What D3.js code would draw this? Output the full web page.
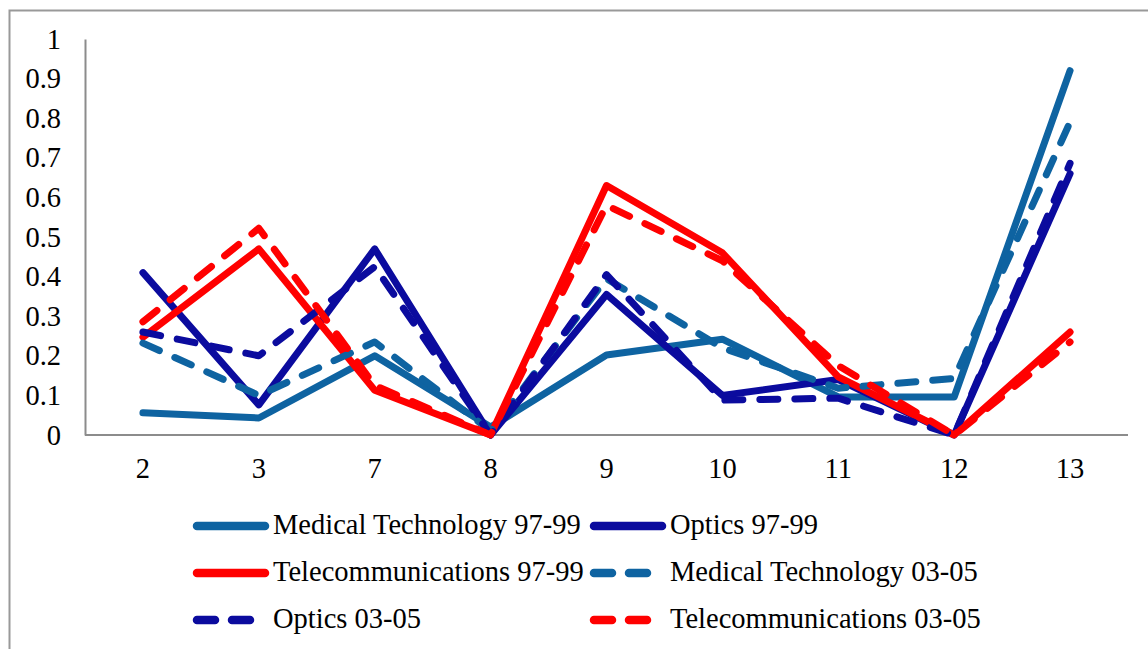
<!DOCTYPE html>
<html>
<head>
<meta charset="utf-8">
<script src="https://cdn.jsdelivr.net/npm/d3@7"></script>
<style>
  html, body { margin: 0; padding: 0; background: #fff; }
  svg { display: block; }
  text { font-family: "Liberation Serif", "Times New Roman", serif; fill: #000; }
</style>
</head>
<body>
<svg id="chart" width="1148" height="649"></svg>
<script>
const categories = ["2", "3", "7", "8", "9", "10", "11", "12", "13"];
const yTicks = [0, 0.1, 0.2, 0.3, 0.4, 0.5, 0.6, 0.7, 0.8, 0.9, 1];
const yTickLabels = ["0", "0.1", "0.2", "0.3", "0.4", "0.5", "0.6", "0.7", "0.8", "0.9", "1"];

const medTech9799 = [0.056, 0.043, 0.200, 0.020, 0.202, 0.242, 0.096, 0.096, 0.920];
const optics9799  = [0.410, 0.076, 0.470, 0.000, 0.355, 0.100, 0.140, 0.000, 0.660];
const telecom9799 = [0.247, 0.470, 0.113, 0.000, 0.630, 0.460, 0.147, 0.000, 0.260];
const medTech0305 = [0.232, 0.100, 0.235, 0.010, 0.395, 0.220, 0.118, 0.143, 0.790];
const optics0305  = [0.260, 0.200, 0.425, 0.000, 0.405, 0.088, 0.093, 0.000, 0.686];
const telecom0305 = [0.286, 0.522, 0.125, 0.000, 0.580, 0.440, 0.175, 0.000, 0.235];

const seriesNames = [
  "Medical Technology 97-99", "Optics 97-99", "Telecommunications 97-99",
  "Medical Technology 03-05", "Optics 03-05", "Telecommunications 03-05"
];

const TEAL = "#0E63A1", NAVY = "#0B0B9E", RED = "#FF0000";
const series = [
  { name: seriesNames[0], values: medTech9799, color: TEAL, dashed: false },
  { name: seriesNames[1], values: optics9799,  color: NAVY, dashed: false },
  { name: seriesNames[2], values: telecom9799, color: RED,  dashed: false },
  { name: seriesNames[3], values: medTech0305, color: TEAL, dashed: true },
  { name: seriesNames[4], values: optics0305,  color: NAVY, dashed: true },
  { name: seriesNames[5], values: telecom0305, color: RED,  dashed: true }
];

const svg = d3.select("#chart");
const W = 1148, H = 649;
const plot = { left: 85, right: 1128, top: 39, bottom: 435 };
const LW = 7;
const DASH = "18,17";
const FS = "28.5px";

// outer chart border
svg.append("rect")
  .attr("x", 9.5).attr("y", 10.5)
  .attr("width", W + 10).attr("height", H + 10)
  .attr("fill", "none").attr("stroke", "#999").attr("stroke-width", 2);

const x = d3.scaleBand().domain(categories).range([plot.left, plot.right]);
const y = d3.scaleLinear().domain([0, 1]).range([plot.bottom, plot.top]);

// Y axis
const yAxis = d3.axisLeft(y).tickValues(yTicks)
  .tickFormat((d, i) => yTickLabels[i]).tickSize(0).tickPadding(24);
const gy = svg.append("g").attr("transform", `translate(${plot.left},0)`).call(yAxis);
gy.select(".domain").attr("stroke", "#8c8c8c").attr("stroke-width", 2);
gy.selectAll("text").style("font-family", "Liberation Serif, serif").style("font-size", FS).attr("fill", "#000");

// X axis
const xAxis = d3.axisBottom(x).tickSize(0).tickPadding(23);
const gx = svg.append("g").attr("transform", `translate(0,${plot.bottom})`).call(xAxis);
gx.select(".domain").attr("stroke", "#8c8c8c").attr("stroke-width", 2).attr("d", `M${plot.left},0H${plot.right}`);
gx.selectAll("text").style("font-family", "Liberation Serif, serif").style("font-size", FS).attr("fill", "#000");

// lines
const line = d3.line()
  .x((d, i) => x(categories[i]) + x.bandwidth() / 2)
  .y(d => y(d));

series.forEach(s => {
  svg.append("path")
    .datum(s.values)
    .attr("d", line)
    .attr("fill", "none")
    .attr("stroke", s.color)
    .attr("stroke-width", LW)
    .attr("stroke-linejoin", "round")
    .attr("stroke-linecap", "round")
    .attr("stroke-dasharray", s.dashed ? DASH : null);
});

// legend
const legendCols = [193, 590];
const legendRows = [526, 573, 620];
series.forEach((s, i) => {
  const col = i % 2, row = Math.floor(i / 2);
  const lx = legendCols[col], ly = legendRows[row];
  const g = svg.append("g");
  g.append("line")
    .attr("x1", lx + 4).attr("x2", lx + 72)
    .attr("y1", ly).attr("y2", ly)
    .attr("stroke", s.color).attr("stroke-width", 8.5)
    .attr("stroke-linecap", "round")
    .attr("stroke-dasharray", s.dashed ? DASH : null);
  g.append("text")
    .attr("x", lx + 80).attr("y", ly + 8)
    .style("font-size", FS)
    .text(s.name);
});
</script>
</body>
</html>
